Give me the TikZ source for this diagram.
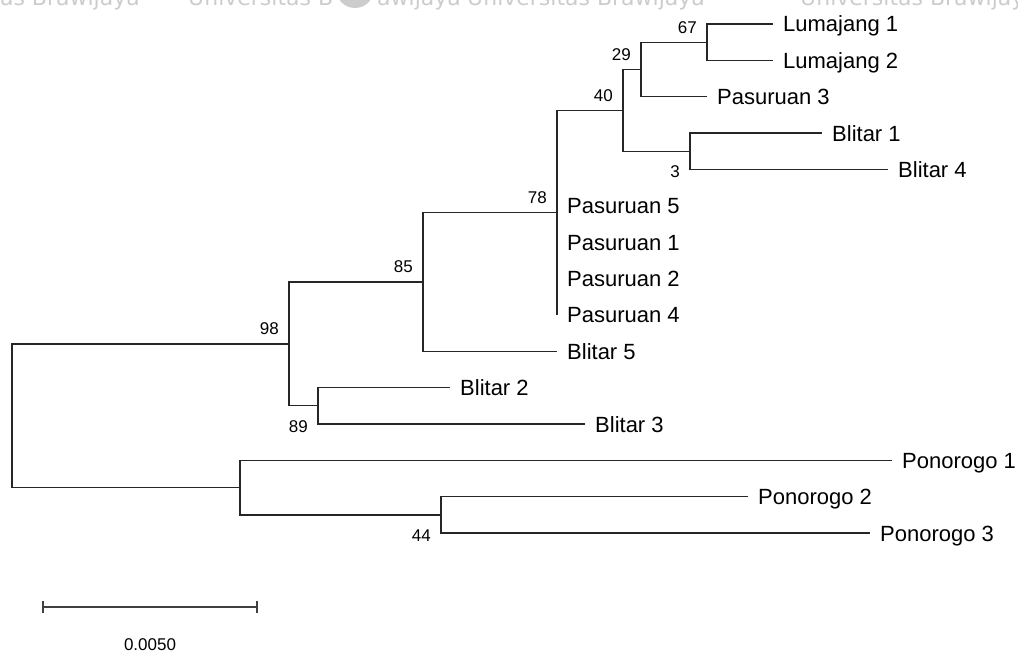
\documentclass[tikz,border=0pt]{standalone}
\usepackage{fontspec}
\setmainfont{Liberation Sans}
\newfontfamily\wmfont{DejaVu Sans}
\begin{document}
\begin{tikzpicture}[x=1pt,y=-1pt,
  branch/.style={draw=black!85, line width=1.3pt},
  leaf/.style={anchor=base west, inner sep=0pt, xshift=10pt, yshift=-8pt,
    font=\fontsize{22}{26}\selectfont},
  bsup/.style={anchor=base east, inner sep=0pt, xshift=-10pt, yshift=9pt,
    font=\fontsize{17}{20}\selectfont},
  bsdown/.style={anchor=base east, inner sep=0pt, xshift=-10pt, yshift=-8pt,
    font=\fontsize{17}{20}\selectfont},
  wmark/.style={anchor=base west, inner sep=0pt, text=black!20,
    font=\wmfont\fontsize{22}{26}\selectfont}]
\useasboundingbox (0,0) rectangle (1018,652);
\clip (0,0) rectangle (1018,652);

% faint watermark along the top edge
\node[wmark, anchor=base east] (wm1) at (140,6) {Universitas Brawijaya};
\node[wmark] (wm2) at (188,6) {Universitas B};
\fill[black!20] (355,-11) circle (19);
\node[wmark] (wm3) at (377,6) {awijaya};
\node[wmark] (wm4) at (467,6) {Universitas Brawijaya};
\node[wmark] (wm5) at (800,6) {Universitas Brawijaya};

% leaf tips
\coordinate (L1)  at (773,24);
\coordinate (L2)  at (773,60.4);
\coordinate (P3)  at (707,96.7);
\coordinate (B1)  at (822,133.1);
\coordinate (B4)  at (888,169.4);
\coordinate (P5)  at (557,205.8);
\coordinate (P1)  at (557,242.2);
\coordinate (P2)  at (557,278.5);
\coordinate (P4)  at (557,314.9);
\coordinate (B5)  at (557,351.2);
\coordinate (B2)  at (450,387.6);
\coordinate (B3)  at (585,424);
\coordinate (Po1) at (892,460.3);
\coordinate (Po2) at (748,496.7);
\coordinate (Po3) at (870,533);

% internal nodes
\coordinate (n67)  at (707,42.2);
\coordinate (n29)  at (641,69.5);
\coordinate (n3)   at (690,151.3);
\coordinate (n40)  at (623,110.4);
\coordinate (n78)  at (557,212.6);
\coordinate (n85)  at (423,281.9);
\coordinate (n89)  at (318,405.8);
\coordinate (n98)  at (289,343.9);
\coordinate (n44)  at (441,514.9);
\coordinate (nPo)  at (240,487.6);
\coordinate (root) at (12,415.7);

% branches
\draw[branch] (root) |- (n98);
\draw[branch] (root) |- (nPo);
\draw[branch] (n98) |- (n85);
\draw[branch] (n98) |- (n89);
\draw[branch] (n85) |- (n78);
\draw[branch] (n85) |- (B5);
\draw[branch] (n78) |- (n40);
\draw[branch] (n78) |- (P4);
\draw[branch] (n40) |- (n29);
\draw[branch] (n40) |- (n3);
\draw[branch] (n29) |- (n67);
\draw[branch] (n29) |- (P3);
\draw[branch] (n67) |- (L1);
\draw[branch] (n67) |- (L2);
\draw[branch] (n3) |- (B1);
\draw[branch] (n3) |- (B4);
\draw[branch] (n89) |- (B2);
\draw[branch] (n89) |- (B3);
\draw[branch] (nPo) |- (Po1);
\draw[branch] (nPo) |- (n44);
\draw[branch] (n44) |- (Po2);
\draw[branch] (n44) |- (Po3);

% taxon labels
\node[leaf] (tL1)  at (L1)  {Lumajang 1};
\node[leaf] (tL2)  at (L2)  {Lumajang 2};
\node[leaf] (tP3)  at (P3)  {Pasuruan 3};
\node[leaf] (tB1)  at (B1)  {Blitar 1};
\node[leaf] (tB4)  at (B4)  {Blitar 4};
\node[leaf] (tP5)  at (P5)  {Pasuruan 5};
\node[leaf] (tP1)  at (P1)  {Pasuruan 1};
\node[leaf] (tP2)  at (P2)  {Pasuruan 2};
\node[leaf] (tP4)  at (P4)  {Pasuruan 4};
\node[leaf] (tB5)  at (B5)  {Blitar 5};
\node[leaf] (tB2)  at (B2)  {Blitar 2};
\node[leaf] (tB3)  at (B3)  {Blitar 3};
\node[leaf] (tPo1) at (Po1) {Ponorogo 1};
\node[leaf] (tPo2) at (Po2) {Ponorogo 2};
\node[leaf] (tPo3) at (Po3) {Ponorogo 3};

% bootstrap values
\node[bsup] (bs67) at (n67) {67};
\node[bsup] (bs29) at (n29) {29};
\node[bsup] (bs40) at (n40) {40};
\node[bsup] (bs78) at (n78) {78};
\node[bsup] (bs85) at (n85) {85};
\node[bsup] (bs98) at (n98) {98};
\node[bsdown] (bs3)  at (n3 |- B4)  {3};
\node[bsdown] (bs89) at (n89 |- B3) {89};
\node[bsdown] (bs44) at (n44 |- Po3) {44};

% scale bar
\coordinate (sb1) at (43,607);
\coordinate (sb2) at (257,607);
\draw[branch, draw=black!75] (sb1) -- (sb2);
\draw[branch, draw=black!75] ([yshift=6pt]sb1) -- ([yshift=-6pt]sb1);
\draw[branch, draw=black!75] ([yshift=6pt]sb2) -- ([yshift=-6pt]sb2);
\node[anchor=base, inner sep=0pt, font=\fontsize{17}{20}\selectfont] (sbl) at (150,650) {0.0050};
\end{tikzpicture}
\end{document}
